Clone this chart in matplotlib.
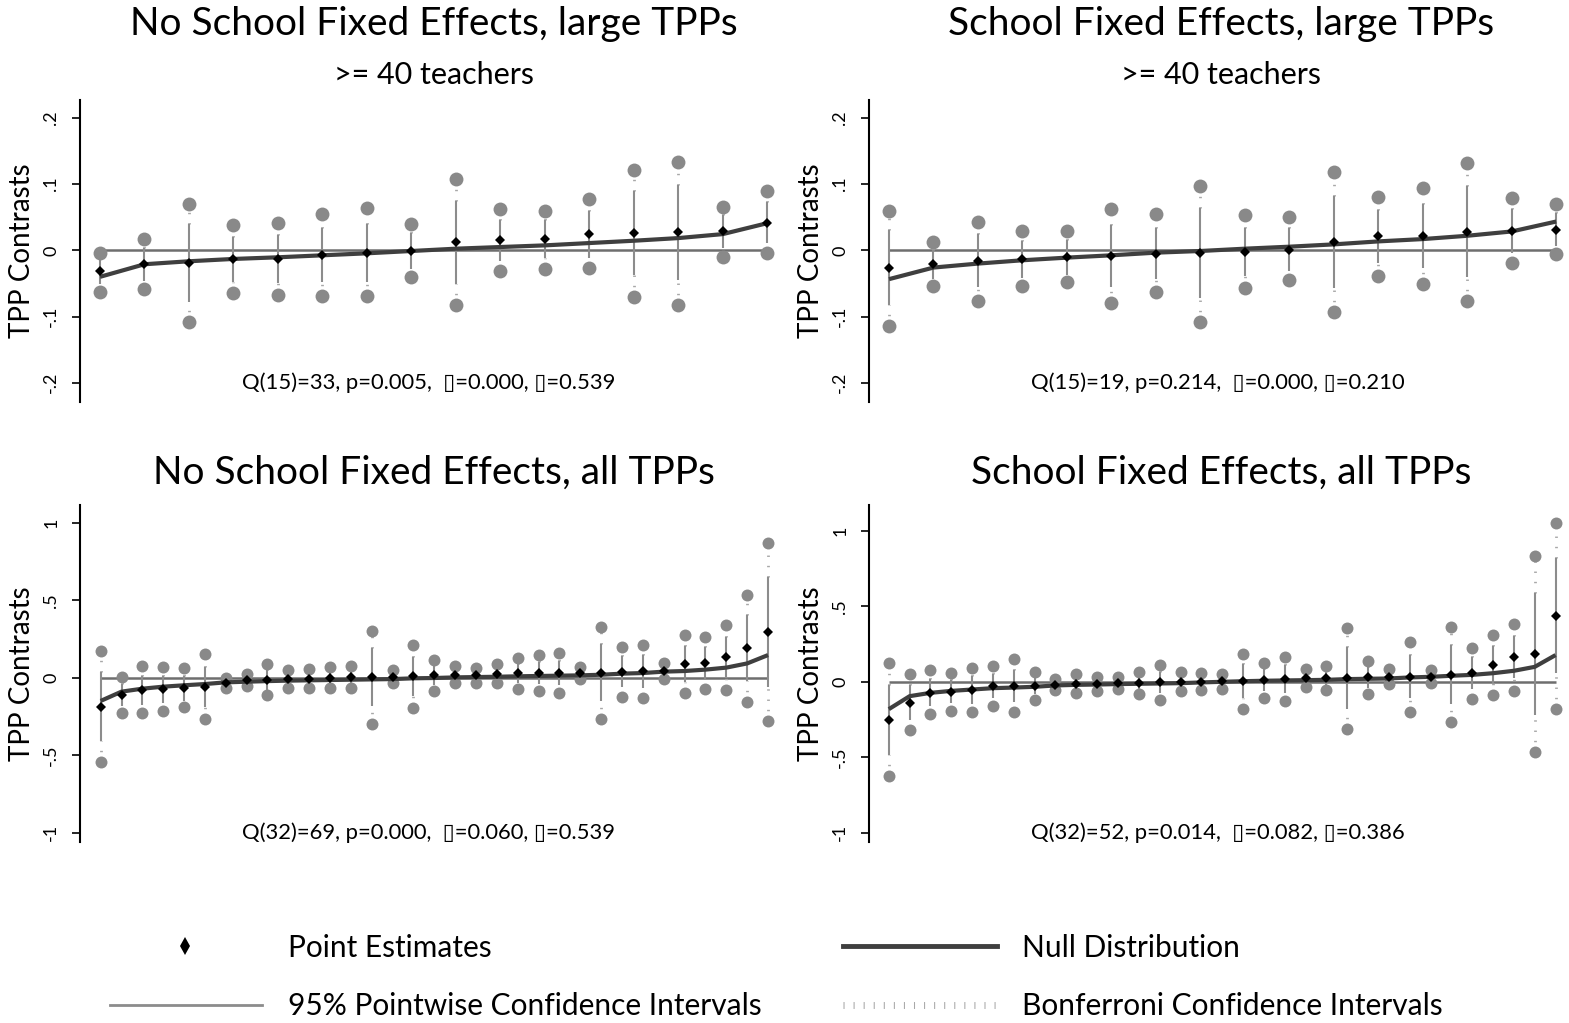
"""
TPP contrast estimates with pointwise and Bonferroni intervals,
four panels (with / without school fixed effects, large / all TPPs)
"""
import numpy as np
import matplotlib.pyplot as plt

plt.rcParams['font.family'] = ['Lato', 'DejaVu Sans']

W, H = 1569, 1023

# --- No school FE, large TPPs (16 programs) ---
tl_est = [-0.0315, -0.021, -0.0185, -0.0135, -0.013, -0.0075, -0.0035, -0.0005,
          0.012, 0.015, 0.017, 0.024, 0.026, 0.027, 0.029, 0.042]
tl_hi = [-0.0035, 0.0175, 0.0695, 0.038, 0.042, 0.055, 0.0645, 0.0405,
         0.1075, 0.0625, 0.0595, 0.078, 0.121, 0.134, 0.0655, 0.090]
tl_lo = [-0.0625, -0.058, -0.1075, -0.065, -0.0675, -0.069, -0.0685, -0.0405,
         -0.0825, -0.0315, -0.0275, -0.027, -0.070, -0.0825, -0.0105, -0.0045]
tl_pw = [0.020, 0.025, 0.059, 0.034, 0.036, 0.041, 0.044, 0.027,
         0.063, 0.031, 0.029, 0.035, 0.063, 0.072, 0.025, 0.031]
tl_null = [-0.040, -0.021, -0.0165, -0.013, -0.0105, -0.0075, -0.0045, -0.001,
           0.0025, 0.005, 0.0075, 0.011, 0.0145, 0.0185, 0.0245, 0.041]

# --- School FE, large TPPs ---
tr_est = [-0.026, -0.021, -0.016, -0.0135, -0.0105, -0.0085, -0.005, -0.0045,
          -0.0025, 0.001, 0.0125, 0.0215, 0.0215, 0.028, 0.0295, 0.031]
tr_hi = [0.0595, 0.013, 0.043, 0.0285, 0.0285, 0.0625, 0.055, 0.0975,
         0.053, 0.050, 0.1185, 0.081, 0.0935, 0.132, 0.0795, 0.0695]
tr_lo = [-0.1135, -0.054, -0.0765, -0.0545, -0.0485, -0.080, -0.0635, -0.1075,
         -0.0565, -0.045, -0.0935, -0.0385, -0.0505, -0.0765, -0.0195, -0.006]
tr_pw = [0.057, 0.022, 0.040, 0.028, 0.026, 0.047, 0.039, 0.068,
         0.036, 0.032, 0.070, 0.040, 0.048, 0.069, 0.033, 0.025]
tr_null = [-0.0435, -0.026, -0.020, -0.015, -0.011, -0.0075, -0.0035, -0.001,
           0.0025, 0.0055, 0.009, 0.0135, 0.017, 0.022, 0.0285, 0.0435]

# --- No school FE, all TPPs (33 programs) ---
bl_est = [-0.187, -0.112, -0.080, -0.075, -0.069, -0.060, -0.032, -0.018, -0.015,
          -0.010, -0.008, -0.002, 0.004, 0.004, 0.006, 0.010, 0.016, 0.020, 0.020,
          0.026, 0.028, 0.030, 0.030, 0.032, 0.032, 0.039, 0.041, 0.045, 0.090,
          0.095, 0.133, 0.191, 0.292]
bl_hi = [0.172, 0.006, 0.077, 0.071, 0.065, 0.151, 0.000, 0.022, 0.086, 0.049,
         0.054, 0.067, 0.073, 0.299, 0.047, 0.211, 0.115, 0.073, 0.065, 0.086,
         0.127, 0.144, 0.157, 0.071, 0.329, 0.198, 0.211, 0.097, 0.277, 0.265,
         0.342, 0.531, 0.867]
bl_lo = [-0.542, -0.226, -0.226, -0.213, -0.191, -0.265, -0.065, -0.054, -0.114,
         -0.065, -0.069, -0.069, -0.069, -0.301, -0.037, -0.198, -0.088, -0.032,
         -0.032, -0.032, -0.075, -0.086, -0.099, -0.006, -0.267, -0.123, -0.129,
         -0.009, -0.099, -0.075, -0.082, -0.155, -0.282]
bl_pw = [0.221, 0.072, 0.094, 0.088, 0.079, 0.129, 0.020, 0.023, 0.062, 0.035,
         0.038, 0.042, 0.044, 0.185, 0.026, 0.126, 0.063, 0.032, 0.030, 0.036,
         0.062, 0.071, 0.079, 0.024, 0.184, 0.099, 0.105, 0.033, 0.116, 0.105,
         0.131, 0.212, 0.355]
bl_null = [-0.150, -0.090, -0.071, -0.058, -0.049, -0.041, -0.030, -0.026, -0.022,
           -0.019, -0.017, -0.015, -0.013, -0.011, -0.009, -0.004, -0.002, 0.002,
           0.004, 0.006, 0.009, 0.011, 0.013, 0.015, 0.019, 0.026, 0.030, 0.039,
           0.043, 0.052, 0.065, 0.092, 0.146]

# --- School FE, all TPPs ---
br_est = [-0.254, -0.139, -0.071, -0.066, -0.054, -0.029, -0.027, -0.026, -0.020,
          -0.012, -0.012, -0.007, -0.006, -0.003, 0.000, 0.001, 0.003, 0.004, 0.010,
          0.017, 0.024, 0.025, 0.025, 0.029, 0.033, 0.033, 0.034, 0.046, 0.060,
          0.112, 0.163, 0.183, 0.437]
br_hi = [0.126, 0.053, 0.075, 0.057, 0.093, 0.104, 0.148, 0.064, 0.018, 0.051,
         0.033, 0.035, 0.066, 0.110, 0.062, 0.057, 0.054, 0.183, 0.126, 0.163,
         0.086, 0.102, 0.355, 0.139, 0.086, 0.263, 0.075, 0.364, 0.227, 0.309,
         0.384, 0.834, 1.053]
br_lo = [-0.620, -0.320, -0.214, -0.192, -0.201, -0.157, -0.201, -0.119, -0.057,
         -0.073, -0.060, -0.049, -0.082, -0.119, -0.062, -0.055, -0.049, -0.179,
         -0.106, -0.130, -0.035, -0.051, -0.311, -0.082, -0.015, -0.201, -0.007,
         -0.269, -0.113, -0.090, -0.062, -0.466, -0.179]
br_pw = [0.231, 0.115, 0.089, 0.077, 0.091, 0.081, 0.108, 0.057, 0.023, 0.038,
         0.029, 0.026, 0.046, 0.071, 0.038, 0.035, 0.032, 0.112, 0.072, 0.091,
         0.037, 0.047, 0.206, 0.068, 0.031, 0.143, 0.025, 0.196, 0.105, 0.123,
         0.138, 0.402, 0.381]
br_null = [-0.181, -0.095, -0.073, -0.060, -0.051, -0.042, -0.038, -0.033, -0.024,
           -0.020, -0.018, -0.015, -0.013, -0.011, -0.009, -0.004, 0.000, 0.004,
           0.007, 0.009, 0.011, 0.013, 0.018, 0.020, 0.022, 0.029, 0.033, 0.040,
           0.046, 0.057, 0.073, 0.099, 0.177]

small_ticks = [-0.2, -0.1, 0, 0.1, 0.2]
small_labels = ['-.2', '-.1', '0', '.1', '.2']
big_ticks = [-1, -0.5, 0, 0.5, 1]
big_labels = ['-1', '-.5', '0', '.5', '1']

titles = ['No School Fixed Effects, large TPPs', 'School Fixed Effects, large TPPs',
          'No School Fixed Effects, all TPPs', 'School Fixed Effects, all TPPs']
subtitle = '>= 40 teachers'
notes = ['Q(15)=33, p=0.005,  \u25af=0.000, \u25af=0.539',
         'Q(15)=19, p=0.214,  \u25af=0.000, \u25af=0.210',
         'Q(32)=69, p=0.000,  \u25af=0.060, \u25af=0.539',
         'Q(32)=52, p=0.014,  \u25af=0.082, \u25af=0.386']

CIRC = '#898989'
PW = '#8c8c8c'
BONF = '#a8a8a8'
NULL = '#3f3f3f'
ZERO = '#6e6e6e'


def px_rect(x0, y0, x1, y1):
    return [x0 / W, 1 - y1 / H, (x1 - x0) / W, (y1 - y0) / H]


def panel(ax, est, lo, hi, pw, null, ylim, ticks, labels, note, xlim, csize):
    est, lo, hi, pw = map(np.asarray, (est, lo, hi, pw))
    x = np.arange(1, len(est) + 1)
    ax.hlines(0, 1, len(est), color=ZERO, lw=1.8, zorder=1)
    # Bonferroni segments (beyond pointwise ends)
    ax.vlines(x, est + pw, hi, color=BONF, lw=2, linestyles=[(0, (0.5, 3.2))], zorder=2)
    ax.vlines(x, lo, est - pw, color=BONF, lw=2, linestyles=[(0, (0.5, 3.2))], zorder=2)
    ax.vlines(x, est - pw, est + pw, color=PW, lw=1.5, zorder=3)
    ax.plot(x, hi, 'o', color=CIRC, ms=csize, mew=0, zorder=4)
    ax.plot(x, lo, 'o', color=CIRC, ms=csize, mew=0, zorder=4)
    ax.plot(x, null, '-', color=NULL, lw=3, zorder=5, solid_capstyle='butt')
    ax.plot(x, est, 'D', color='black', ms=5.3, mew=0, zorder=6)
    ax.set_xlim(*xlim)
    ax.set_ylim(*ylim)
    ax.set_yticks(ticks)
    ax.set_yticklabels(labels, rotation=90, va='center')
    ax.set_xticks([])
    for s in ['top', 'right', 'bottom']:
        ax.spines[s].set_visible(False)
    ax.spines['left'].set_linewidth(1.5)
    ax.tick_params(axis='y', length=6, width=1.2, pad=9, labelsize=13)
    ax.set_ylabel('TPP Contrasts', fontsize=20)
    ax.yaxis.set_label_coords(-0.065, 0.5)
    ax.text(0.5, ticks[0], note, transform=ax.get_yaxis_transform(),
            ha='center', va='center', fontsize=15.8)


fig = plt.figure(figsize=(W / 100, H / 100), dpi=100)

ax_tl = fig.add_axes(px_rect(80, 100, 777, 402))
ax_tr = fig.add_axes(px_rect(869, 100, 1566, 402))
ax_bl = fig.add_axes(px_rect(80, 505, 777, 842))
ax_br = fig.add_axes(px_rect(869, 505, 1566, 842))

panel(ax_tl, tl_est, tl_lo, tl_hi, tl_pw, tl_null, (-0.229, 0.227),
      small_ticks, small_labels, notes[0], (0.55, 16.22), 10)
panel(ax_tr, tr_est, tr_lo, tr_hi, tr_pw, tr_null, (-0.229, 0.227),
      small_ticks, small_labels, notes[1], (0.55, 16.22), 10)
panel(ax_bl, bl_est, bl_lo, bl_hi, bl_pw, bl_null, (-1.06, 1.114),
      big_ticks, big_labels, notes[2], (0.01, 33.43), 8.6)
panel(ax_br, br_est, br_lo, br_hi, br_pw, br_null, (-1.06, 1.17),
      big_ticks, big_labels, notes[3], (0.05, 33.5), 8.6)

# titles
for cx, cy, t in [(434, 24, titles[0]), (1221, 24, titles[1]),
                  (434, 473, titles[2]), (1221, 473, titles[3])]:
    fig.text(cx / W, 1 - cy / H, t, ha='center', va='center', fontsize=28)
for cx in [434, 1221]:
    fig.text(cx / W, 1 - 75 / H, subtitle, ha='center', va='center', fontsize=22)

# legend, drawn in figure pixel space
lax = fig.add_axes([0, 0, 1, 1], zorder=-1)
lax.set_xlim(0, W)
lax.set_ylim(H, 0)
lax.axis('off')
lax.plot([185], [946], 'd', color='black', ms=9, mew=0)
lax.plot([843, 997], [946, 946], color=NULL, lw=3.5)
lax.plot([110, 262], [1005, 1005], color=PW, lw=2)
lax.plot([843, 997], [1005, 1005], color=BONF, lw=5, linestyle=(0, (0.15, 1.3)))
lax.text(288, 948, 'Point Estimates', ha='left', va='center', fontsize=21.5)
lax.text(1022, 948, 'Null Distribution', ha='left', va='center', fontsize=21.5)
lax.text(288, 1006, '95% Pointwise Confidence Intervals', ha='left', va='center', fontsize=21.5)
lax.text(1022, 1006, 'Bonferroni Confidence Intervals', ha='left', va='center', fontsize=21.5)

fig.savefig('out.png', dpi=100)
